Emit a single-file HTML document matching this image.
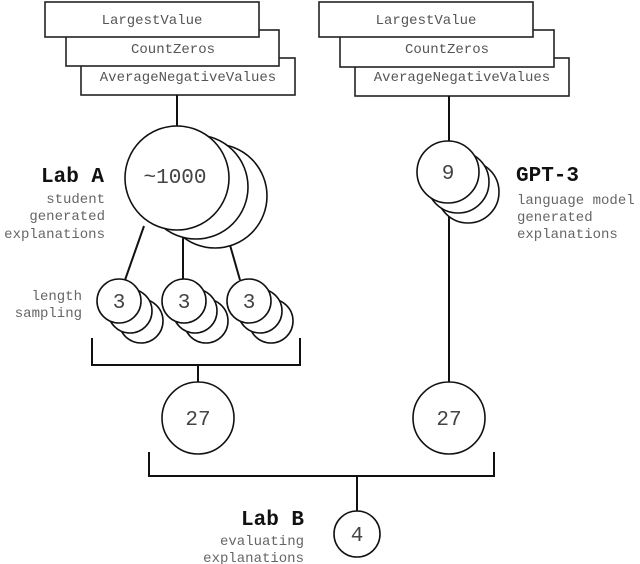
<!DOCTYPE html>
<html><head><style>body{margin:0;background:#fff}svg{display:block}</style></head><body>
<svg width="640" height="564" viewBox="0 0 640 564" xmlns="http://www.w3.org/2000/svg" font-family="Liberation Mono, monospace">
<g fill="#fff" stroke="#222" stroke-width="1.6">
<rect x="81" y="58" width="214" height="37"/><rect x="66" y="30" width="213" height="36"/><rect x="45" y="2" width="214" height="35"/>
<rect x="355" y="58" width="214" height="38"/><rect x="340" y="30" width="214" height="37"/><rect x="319" y="2" width="214" height="35"/>
</g>
<g fill="#555" font-size="14" text-anchor="middle">
<text x="152" y="24">LargestValue</text><text x="173" y="53">CountZeros</text><text x="188" y="81">AverageNegativeValues</text>
<text x="426" y="24">LargestValue</text><text x="447" y="53">CountZeros</text><text x="462" y="81">AverageNegativeValues</text>
</g>
<g stroke="#111" stroke-width="2" fill="none">
<line x1="177" y1="95" x2="177" y2="126"/>
<line x1="144" y1="226" x2="125" y2="280"/><line x1="183" y1="232" x2="183" y2="279"/><line x1="228" y1="238" x2="240" y2="280"/>
<polyline points="92,338 92,365 300,365 300,338"/><line x1="198" y1="365" x2="198" y2="382"/>
<line x1="449" y1="96" x2="449" y2="382"/>
<polyline points="149,452 149,476 494,476 494,452"/><line x1="357" y1="476" x2="357" y2="511"/>
</g>
<g fill="#fff" stroke="#111" stroke-width="1.6">
<circle cx="215" cy="196" r="52"/><circle cx="196" cy="187" r="52"/><circle cx="177" cy="178" r="52"/>
<circle cx="468" cy="192" r="31"/><circle cx="458" cy="182" r="31"/><circle cx="448" cy="172" r="31"/>
<circle cx="141" cy="321" r="22"/><circle cx="130" cy="311" r="22"/><circle cx="119" cy="301" r="22"/>
<circle cx="206" cy="321" r="22"/><circle cx="195" cy="311" r="22"/><circle cx="184" cy="301" r="22"/>
<circle cx="271" cy="321" r="22"/><circle cx="260" cy="311" r="22"/><circle cx="249" cy="301" r="22"/>
<circle cx="198" cy="418" r="36"/><circle cx="449" cy="418" r="36"/><circle cx="357" cy="534" r="23"/>
</g>
<g fill="#444" text-anchor="middle" font-size="21">
<text x="175" y="183">~1000</text><text x="448" y="179">9</text>
<text x="119" y="308">3</text><text x="184" y="308">3</text><text x="249" y="308">3</text>
<text x="198" y="425">27</text><text x="449" y="425">27</text><text x="357" y="541">4</text>
</g>
<g font-weight="bold" font-size="21" fill="#111">
<text x="104" y="182" text-anchor="end">Lab A</text><text x="516" y="181">GPT-3</text><text x="304" y="525" text-anchor="end">Lab B</text>
</g>
<g fill="#666" font-size="14">
<g text-anchor="end"><text x="105" y="203">student</text><text x="105" y="220">generated</text><text x="105" y="238">explanations</text>
<text x="82" y="300">length</text><text x="82" y="317">sampling</text>
<text x="304" y="545">evaluating</text><text x="304" y="562">explanations</text></g>
<text x="517" y="204">language model</text><text x="517" y="221">generated</text><text x="517" y="238">explanations</text>
</g>
</svg>
</body></html>
